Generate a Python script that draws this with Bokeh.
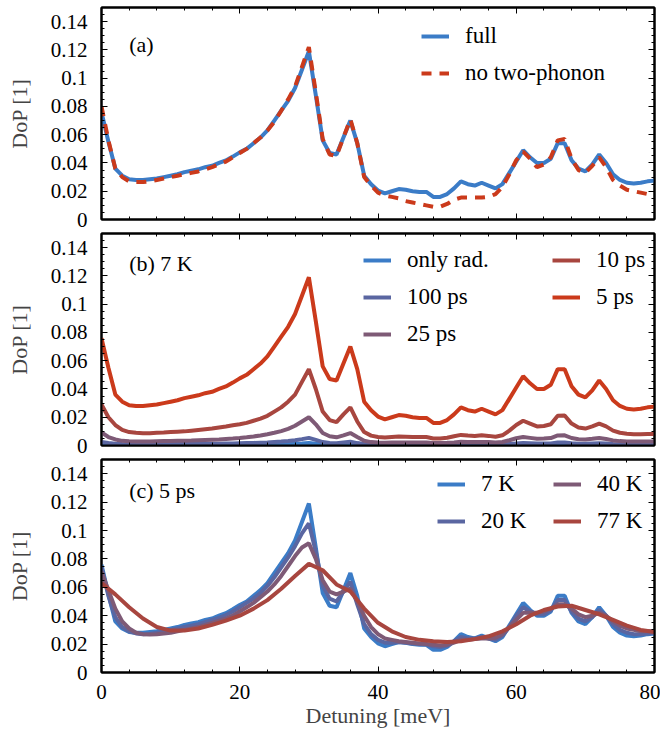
from bokeh.plotting import figure
from bokeh.models import (Range1d, FixedTicker, LinearAxis, Legend, LegendItem,
                          Label, CustomJSTickFormatter)
from bokeh.layouts import column
from bokeh.embed import file_html
from bokeh.resources import INLINE

FONT = "Liberation Serif"

# ---------------- data ----------------
detuning = list(range(0, 81))          # meV, step 1
detuning_coarse = list(range(0, 81, 2))  # meV, step 2

full = [0.076, 0.055, 0.036, 0.031, 0.0285, 0.028, 0.028, 0.0285, 0.029, 0.030,
        0.031, 0.032, 0.0335, 0.0345, 0.0355, 0.037, 0.038, 0.040, 0.0418, 0.0445,
        0.0475, 0.050, 0.054, 0.058, 0.063, 0.070, 0.077, 0.084, 0.093, 0.106,
        0.119, 0.088, 0.056, 0.047, 0.046, 0.058, 0.070, 0.054, 0.031, 0.025,
        0.0205, 0.0185, 0.020, 0.0215, 0.021, 0.020, 0.0195, 0.0195, 0.016, 0.016,
        0.018, 0.022, 0.027, 0.025, 0.024, 0.026, 0.024, 0.022, 0.025, 0.033,
        0.041, 0.049, 0.044, 0.040, 0.040, 0.043, 0.054, 0.054, 0.042, 0.036,
        0.034, 0.039, 0.046, 0.040, 0.032, 0.028, 0.026, 0.0255, 0.026, 0.027,
        0.0275]

no_two_phonon = [0.080, 0.056, 0.036, 0.030, 0.027, 0.0265, 0.0265, 0.027, 0.028, 0.029,
                 0.030, 0.031, 0.032, 0.033, 0.034, 0.0355, 0.037, 0.039, 0.041, 0.044,
                 0.047, 0.050, 0.054, 0.058, 0.063, 0.069, 0.077, 0.085, 0.094, 0.108,
                 0.122, 0.090, 0.057, 0.046, 0.045, 0.058, 0.071, 0.054, 0.030, 0.024,
                 0.019, 0.017, 0.016, 0.015, 0.013, 0.012, 0.011, 0.010, 0.009, 0.009,
                 0.011, 0.014, 0.0155, 0.0155, 0.0155, 0.0155, 0.016, 0.018, 0.023, 0.032,
                 0.042, 0.048, 0.043, 0.037, 0.039, 0.044, 0.056, 0.057, 0.043, 0.035,
                 0.033, 0.038, 0.044, 0.037, 0.028, 0.024, 0.021, 0.020, 0.019, 0.018,
                 0.017]

dep_10ps = [0.029, 0.020, 0.0145, 0.011, 0.0095, 0.009, 0.0087, 0.0087, 0.009, 0.0092,
            0.0095, 0.0098, 0.010, 0.0105, 0.011, 0.0115, 0.012, 0.0128, 0.0135, 0.0143,
            0.015, 0.016, 0.0175, 0.019, 0.021, 0.024, 0.027, 0.031, 0.036, 0.045,
            0.054, 0.040, 0.024, 0.018, 0.0165, 0.022, 0.027, 0.017, 0.0095, 0.007,
            0.006, 0.0056, 0.006, 0.0064, 0.0062, 0.006, 0.006, 0.006, 0.005, 0.005,
            0.0055, 0.0065, 0.0075, 0.007, 0.0068, 0.0072, 0.0068, 0.0062, 0.0072, 0.0105,
            0.0145, 0.0175, 0.0155, 0.0135, 0.0138, 0.015, 0.021, 0.0212, 0.0155, 0.0128,
            0.012, 0.0135, 0.0155, 0.0135, 0.0105, 0.009, 0.0083, 0.008, 0.008, 0.0081,
            0.0082]

dep_25ps = [0.0092, 0.006, 0.0043, 0.0033, 0.003, 0.0028, 0.0028, 0.0029, 0.003, 0.0031,
            0.0032, 0.0033, 0.0034, 0.0035, 0.0037, 0.0039, 0.0041, 0.0043, 0.0046, 0.0049,
            0.0053, 0.0058, 0.0064, 0.0071, 0.008, 0.009, 0.0102, 0.0118, 0.014, 0.0170,
            0.0200, 0.015, 0.0088, 0.0065, 0.0058, 0.0072, 0.0088, 0.006, 0.0033, 0.0024,
            0.0021, 0.002, 0.0021, 0.0022, 0.0022, 0.0021, 0.0021, 0.0021, 0.0018, 0.0018,
            0.0019, 0.0022, 0.0026, 0.0025, 0.0024, 0.0025, 0.0024, 0.0022, 0.0025, 0.0037,
            0.0051, 0.006, 0.0054, 0.0048, 0.0049, 0.0053, 0.0071, 0.0072, 0.0053, 0.0044,
            0.0042, 0.0047, 0.0053, 0.0046, 0.0036, 0.0031, 0.0029, 0.0028, 0.0028, 0.0028,
            0.0029]

dep_100ps = [0.0025, 0.0017, 0.0012, 0.001, 0.0009, 0.0009, 0.0009, 0.0009, 0.0009, 0.001,
             0.001, 0.001, 0.001, 0.0011, 0.0011, 0.0012, 0.0012, 0.0013, 0.0014, 0.0015,
             0.0016, 0.0017, 0.0018, 0.002, 0.0022, 0.0025, 0.0028, 0.0032, 0.0037, 0.0045,
             0.0054, 0.004, 0.0024, 0.0018, 0.0016, 0.0022, 0.0027, 0.0017, 0.001, 0.0007,
             0.0006, 0.0006, 0.0006, 0.0007, 0.0007, 0.0006, 0.0006, 0.0006, 0.0005, 0.0005,
             0.0006, 0.0007, 0.0008, 0.0007, 0.0007, 0.0007, 0.0007, 0.0006, 0.0007, 0.0011,
             0.0015, 0.0018, 0.0016, 0.0014, 0.0014, 0.0015, 0.0021, 0.0021, 0.0016, 0.0013,
             0.0012, 0.0014, 0.0016, 0.0014, 0.0011, 0.0009, 0.0009, 0.0009, 0.0009, 0.0009,
             0.0009]

only_rad = [0.0008, 0.0005, 0.0004, 0.0003, 0.0003, 0.0003, 0.0003, 0.0003, 0.0003, 0.0003,
            0.0003, 0.0003, 0.0003, 0.0003, 0.0004, 0.0004, 0.0004, 0.0004, 0.0005, 0.0005,
            0.0005, 0.0006, 0.0006, 0.0007, 0.0007, 0.0008, 0.0009, 0.0010, 0.0012, 0.0014,
            0.0017, 0.0013, 0.0008, 0.0006, 0.0005, 0.0007, 0.0008, 0.0005, 0.0003, 0.0002,
            0.0002, 0.0002, 0.0002, 0.0002, 0.0002, 0.0002, 0.0002, 0.0002, 0.0002, 0.0002,
            0.0002, 0.0002, 0.0002, 0.0002, 0.0002, 0.0002, 0.0002, 0.0002, 0.0002, 0.0003,
            0.0004, 0.0005, 0.0005, 0.0004, 0.0004, 0.0005, 0.0006, 0.0006, 0.0005, 0.0004,
            0.0004, 0.0004, 0.0005, 0.0004, 0.0003, 0.0003, 0.0003, 0.0003, 0.0003, 0.0003,
            0.0003]

temp_20K = [0.074, 0.054, 0.039, 0.032, 0.029, 0.0275, 0.027, 0.0272, 0.028, 0.029,
            0.030, 0.031, 0.032, 0.033, 0.034, 0.0355, 0.037, 0.0385, 0.0405, 0.043,
            0.046, 0.049, 0.052, 0.056, 0.061, 0.067, 0.074, 0.081, 0.089, 0.098,
            0.105, 0.085, 0.061, 0.052, 0.050, 0.057, 0.064, 0.048, 0.034, 0.027,
            0.023, 0.021, 0.021, 0.0215, 0.021, 0.0205, 0.020, 0.0198, 0.0185, 0.018,
            0.019, 0.022, 0.025, 0.024, 0.024, 0.025, 0.024, 0.023, 0.026, 0.032,
            0.040, 0.046, 0.043, 0.041, 0.041, 0.044, 0.051, 0.051, 0.043, 0.038,
            0.036, 0.039, 0.044, 0.040, 0.034, 0.030, 0.028, 0.027, 0.027, 0.0275,
            0.028]

temp_40K = [0.071, 0.058, 0.045, 0.036, 0.031, 0.028, 0.027, 0.0268, 0.027, 0.0275,
            0.028, 0.029, 0.030, 0.031, 0.032, 0.0335, 0.035, 0.0365, 0.038, 0.040,
            0.043, 0.046, 0.049, 0.053, 0.057, 0.062, 0.068, 0.075, 0.082, 0.088,
            0.091, 0.080, 0.065, 0.057, 0.055, 0.057, 0.059, 0.050, 0.040, 0.032,
            0.027, 0.024, 0.023, 0.022, 0.0215, 0.021, 0.0205, 0.020, 0.0195, 0.019,
            0.0195, 0.021, 0.023, 0.023, 0.0235, 0.024, 0.024, 0.0245, 0.027, 0.032,
            0.037, 0.042, 0.042, 0.042, 0.043, 0.045, 0.048, 0.048, 0.045, 0.041,
            0.039, 0.040, 0.042, 0.040, 0.036, 0.033, 0.031, 0.030, 0.029, 0.029,
            0.029]

temp_77K = [0.063, 0.055, 0.046, 0.038, 0.032, 0.0295, 0.0295, 0.031, 0.0335, 0.0365,
            0.040, 0.045, 0.051, 0.059, 0.068, 0.0765, 0.072, 0.062, 0.057, 0.045,
            0.035, 0.029, 0.025, 0.023, 0.022, 0.0215, 0.022, 0.0235, 0.0255, 0.029,
            0.034, 0.040, 0.044, 0.0465, 0.047, 0.044, 0.041, 0.037, 0.033, 0.030,
            0.0285]

y_ticks = [0, 0.02, 0.04, 0.06, 0.08, 0.10, 0.12, 0.14]
x_ticks = [0, 20, 40, 60, 80]

BLUE = "#3b7cc7"
SLATE = "#5a66a1"
MAUVE = "#7e5a76"
BRICK = "#a8463f"
RED = "#cb3a1b"

y_minor = [i * 0.005 for i in range(31)]
x_minor = list(range(0, 81, 4))

fmt = CustomJSTickFormatter(code="return String(Number(tick.toFixed(3)));")


def style_axis(ax, labels):
    ax.axis_line_width = 2
    ax.axis_line_color = "black"
    ax.major_tick_in = 6
    ax.major_tick_out = 0
    ax.minor_tick_in = 3
    ax.minor_tick_out = 0
    ax.major_tick_line_color = "black"
    ax.minor_tick_line_color = "black"
    ax.major_tick_line_width = 1
    ax.minor_tick_line_width = 1
    if labels:
        ax.major_label_text_font = FONT
        ax.major_label_text_font_size = "21px"
        ax.major_label_text_color = "black"
    else:
        ax.major_label_text_font_size = "1px"
        ax.major_label_text_color = None
        ax.major_label_standoff = 0


def make_fig(height, top, bottom, xlabels):
    p = figure(width=660, height=height, x_range=Range1d(0, 80), y_range=Range1d(0, 0.15),
               output_backend="svg", toolbar_location=None,
               min_border_left=101, min_border_right=6,
               min_border_top=top, min_border_bottom=bottom)
    p.xgrid.visible = False
    p.ygrid.visible = False
    p.outline_line_color = "black"
    p.outline_line_width = 2
    p.background_fill_color = "white"
    p.border_fill_color = "white"

    xa = p.xaxis[0]
    xa.ticker = FixedTicker(ticks=x_ticks, minor_ticks=x_minor)
    style_axis(xa, xlabels)
    if xlabels:
        xa.major_label_standoff = 12
        xa.axis_label = "Detuning [meV]"
        xa.axis_label_text_font = FONT
        xa.axis_label_text_font_size = "22px"
        xa.axis_label_text_font_style = "normal"
        xa.axis_label_standoff = 1

    ya = p.yaxis[0]
    ya.ticker = FixedTicker(ticks=y_ticks, minor_ticks=y_minor)
    ya.formatter = fmt
    style_axis(ya, True)
    ya.major_label_standoff = 14
    ya.axis_label = "DoP [1]"
    ya.axis_label_text_font = FONT
    ya.axis_label_text_font_size = "22px"
    ya.axis_label_text_font_style = "normal"
    ya.axis_label_standoff = 16

    top_ax = LinearAxis(ticker=FixedTicker(ticks=x_ticks, minor_ticks=x_minor))
    style_axis(top_ax, False)
    p.add_layout(top_ax, "above")
    right_ax = LinearAxis(ticker=FixedTicker(ticks=y_ticks, minor_ticks=y_minor))
    style_axis(right_ax, False)
    p.add_layout(right_ax, "right")
    return p


def make_legend(items, loc):
    lg = Legend(items=items, location=loc, orientation="vertical")
    lg.label_text_font = FONT
    lg.label_text_font_size = "23px"
    lg.label_text_color = "black"
    lg.glyph_width = 28
    lg.glyph_height = 30
    lg.label_height = 30
    lg.label_standoff = 16
    lg.spacing = 7
    lg.padding = 0
    lg.margin = 0
    lg.border_line_color = None
    lg.background_fill_alpha = 0
    return lg


def panel_label(p, text, yv):
    p.add_layout(Label(x=4, y=yv, text=text, text_font=FONT, text_font_size="22px",
                       text_baseline="middle", text_color="black"))


LW = 4

# ---------------- panel (a) ----------------
pa = make_fig(232, 7, 13, False)
r_full = pa.line(detuning, full, line_color=BLUE, line_width=LW)
r_no2 = pa.line(detuning, no_two_phonon, line_color=RED, line_width=LW, line_dash="10 8")
pa.add_layout(make_legend([LegendItem(label="full", renderers=[r_full]),
                           LegendItem(label="no two-phonon", renderers=[r_no2])], (320, 131)))
panel_label(pa, "(a)", 0.1235)

# ---------------- panel (b) ----------------
pb = make_fig(226, 1, 13, False)
rb1 = pb.line(detuning, only_rad, line_color=BLUE, line_width=LW)
rb2 = pb.line(detuning, dep_100ps, line_color=SLATE, line_width=LW)
rb3 = pb.line(detuning, dep_25ps, line_color=MAUVE, line_width=LW)
rb4 = pb.line(detuning, dep_10ps, line_color=BRICK, line_width=LW)
rb5 = pb.line(detuning, full, line_color=RED, line_width=LW)
pb.add_layout(make_legend([LegendItem(label="only rad.", renderers=[rb1]),
                           LegendItem(label="100 ps", renderers=[rb2]),
                           LegendItem(label="25 ps", renderers=[rb3])], (262, 96)))
pb.add_layout(make_legend([LegendItem(label="10 ps", renderers=[rb4]),
                           LegendItem(label="5 ps", renderers=[rb5])], (451, 133)))
panel_label(pb, "(b) 7 K", 0.129)

# ---------------- panel (c) ----------------
pc = make_fig(274, 1, 60, True)
rc1 = pc.line(detuning, full, line_color=BLUE, line_width=LW)
rc2 = pc.line(detuning, temp_20K, line_color=SLATE, line_width=LW)
rc3 = pc.line(detuning, temp_40K, line_color=MAUVE, line_width=LW)
rc4 = pc.line(detuning_coarse, temp_77K, line_color=BRICK, line_width=LW)
pc.add_layout(make_legend([LegendItem(label="7 K", renderers=[rc1]),
                           LegendItem(label="20 K", renderers=[rc2])], (336, 136)))
pc.add_layout(make_legend([LegendItem(label="40 K", renderers=[rc3]),
                           LegendItem(label="77 K", renderers=[rc4])], (452, 136)))
panel_label(pc, "(c) 5 ps", 0.128)

layout = column(pa, pb, pc, spacing=0)
open("out.html", "w").write(file_html(layout, INLINE))
